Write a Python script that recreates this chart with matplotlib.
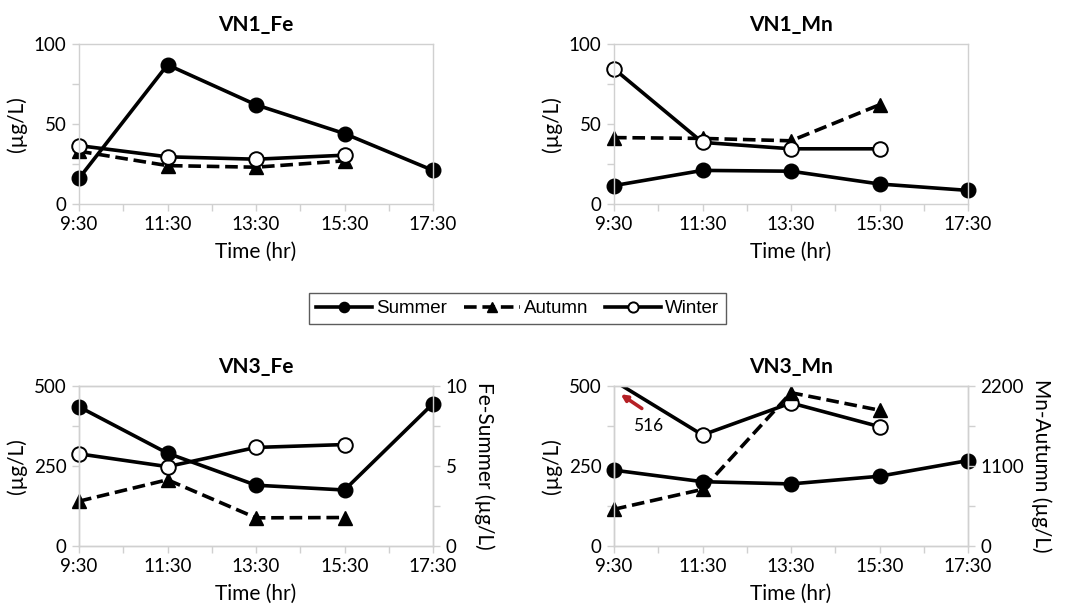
import matplotlib.pyplot as plt

plt.rcParams['font.family'] = ['Lato', 'DejaVu Sans']

# sampling times (hours after 9:30 are derived from these)
times = ['9:30', '11:30', '13:30', '15:30', '17:30']
hrs = [int(t.split(':')[0]) - 9 for t in times]

# VN1 Fe (ug/L)
vn1_fe_summer = [16, 87, 62, 44, 21]
vn1_fe_autumn = [33, 24, 23, 27]
vn1_fe_winter = [36.5, 29.5, 28, 30.5]

# VN1 Mn (ug/L)
vn1_mn_summer = [11.5, 21, 20.5, 12.5, 8.5]
vn1_mn_autumn = [41.5, 41, 39.5, 62]
vn1_mn_winter = [84.5, 38.5, 34.5, 34.5]

# VN3 Fe: summer on the right axis
vn3_fe_summer = [8.7, 5.8, 3.8, 3.5, 8.9]
vn3_fe_autumn = [140, 207, 88, 89]
vn3_fe_winter = [288, 248, 308, 317]

# VN3 Mn: autumn on the right axis
vn3_mn_summer = [237, 201, 194, 218, 267]
vn3_mn_autumn = [505, 779, 2108, 1867]
vn3_mn_winter = [516, 347, 447, 373]

seasons = ['Summer', 'Autumn', 'Winter']

grey = '#d0d0d0'
lw = 2.6
lab_fs = 15


def style(season):
    if season == 'Summer':
        return dict(color='black', lw=lw, marker='o', ms=10.5, mfc='black', mec='black')
    if season == 'Autumn':
        return dict(color='black', lw=lw, ls=(0, (3.5, 1.6)), marker='^', ms=10,
                    mfc='black', mec='black')
    return dict(color='black', lw=lw, marker='o', ms=10.5, mfc='white', mec='black', mew=1.4)


def frame(ax, ymax):
    ax.set_xlim(0, 8)
    ax.set_ylim(0, ymax)
    for s in ax.spines.values():
        s.set_color(grey)
        s.set_linewidth(1.0)
    ax.tick_params(axis='both', colors=grey, labelcolor='black', labelsize=13.5,
                   length=5, width=1.0, direction='out', which='both', pad=4)
    ax.set_xticks(range(0, 9, 2), times)
    ax.set_xticks(range(1, 9, 2), minor=True)
    ax.set_yticks([0, ymax / 2, ymax], [f'{v:g}' for v in [0, ymax / 2, ymax]])
    ax.set_yticks([ymax / 4, ymax * 3 / 4], minor=True)


def base(rect, title, ymax):
    ax = fig.add_axes(rect)
    frame(ax, ymax)
    ax.set_title(title, fontsize=15, fontweight='bold', pad=9)
    ax.set_xlabel('Time (hr)', fontsize=lab_fs, labelpad=6)
    ax.set_ylabel('(µg/L)', fontsize=lab_fs, labelpad=5)
    return ax


def twin(ax, ymax, label):
    ax2 = ax.twinx()
    frame(ax2, ymax)
    ax2.set_ylabel(label, fontsize=lab_fs, rotation=270, va='bottom', labelpad=5)
    return ax2


fig = plt.figure(figsize=(10.68, 6.09), dpi=100)

w, h = 354 / 1068, 160 / 609

ax1 = base([79 / 1068, 1 - 204 / 609, w, h], 'VN1_Fe', 100)
ax1.plot(hrs, vn1_fe_summer, clip_on=False, label='Summer', **style('Summer'))
ax1.plot(hrs[:4], vn1_fe_autumn, clip_on=False, label='Autumn', **style('Autumn'))
ax1.plot(hrs[:4], vn1_fe_winter, clip_on=False, label='Winter', **style('Winter'))

ax2 = base([614 / 1068, 1 - 204 / 609, w, h], 'VN1_Mn', 100)
ax2.plot(hrs, vn1_mn_summer, clip_on=False, **style('Summer'))
ax2.plot(hrs[:4], vn1_mn_autumn, clip_on=False, **style('Autumn'))
ax2.plot(hrs[:4], vn1_mn_winter, clip_on=False, **style('Winter'))

ax3 = base([79 / 1068, 1 - 546 / 609, w, h], 'VN3_Fe', 500)
ax3.plot(hrs[:4], vn3_fe_autumn, clip_on=False, **style('Autumn'))
ax3.plot(hrs[:4], vn3_fe_winter, clip_on=False, **style('Winter'))
ax3r = twin(ax3, 10, 'Fe-Summer (µg/L)')
ax3r.plot(hrs, vn3_fe_summer, clip_on=False, **style('Summer'))

# VN3 Mn: winter 9:30 value is off the scale, so that line is clipped
ax4 = base([614 / 1068, 1 - 546 / 609, w, h], 'VN3_Mn', 500)
ax4.plot(hrs, vn3_mn_summer, clip_on=False, **style('Summer'))
ax4.plot(hrs[:4], vn3_mn_winter, clip_on=True, markevery=[1, 2, 3], **style('Winter'))
ax4r = twin(ax4, 2200, 'Mn-Autumn (µg/L)')
ax4r.plot(hrs[:4], vn3_mn_autumn, clip_on=False, **style('Autumn'))

red = '#b52025'
ax4.annotate('', xy=(0.1, 479), xytext=(0.68, 425),
             arrowprops=dict(arrowstyle='-|>', color=red, lw=2.6, mutation_scale=9))
ax4.text(0.78, 376, str(vn3_mn_winter[0]), fontsize=12.5, ha='center', va='center')

handles, labels = ax1.get_legend_handles_labels()
leg = fig.legend(handles, labels, loc='center', bbox_to_anchor=(517.5 / 1068, 1 - 308.5 / 609),
                 ncol=3, frameon=True, fancybox=False, edgecolor='#333333',
                 prop={'family': 'Liberation Sans', 'size': 13.5}, handlelength=3.0,
                 handletextpad=0.2, columnspacing=0.9, markerscale=0.7, borderpad=0.35)
leg.get_frame().set_linewidth(1.0)

fig.savefig('out.png', dpi=100)
